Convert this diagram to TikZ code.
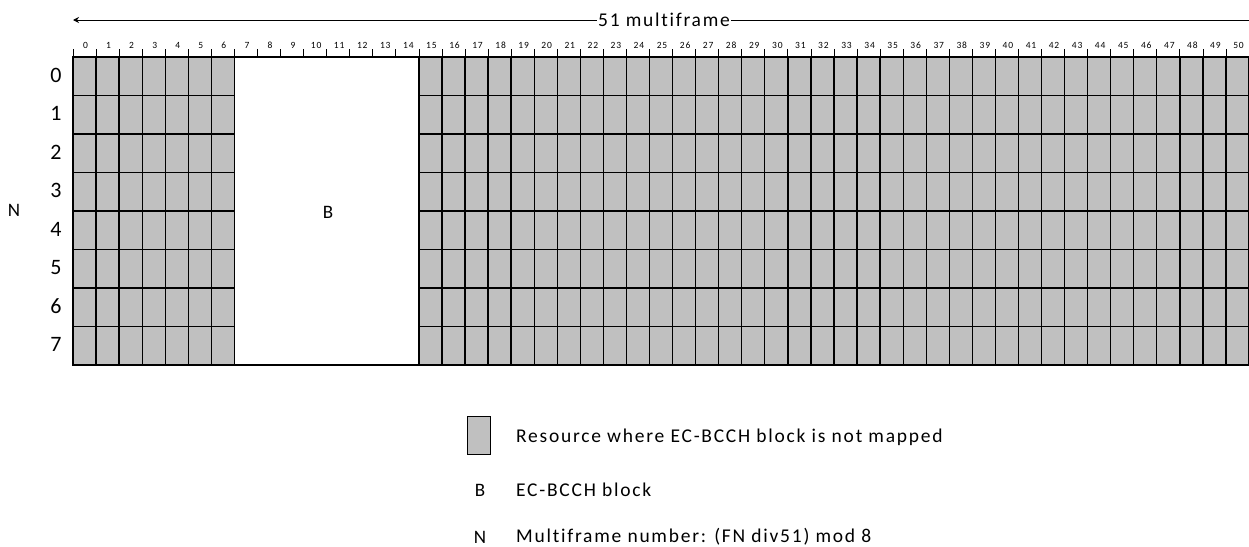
\documentclass[tikz,border=0pt]{standalone}
\usepackage{fontspec}
\setmainfont{Carlito}
\usetikzlibrary{arrows.meta}
\definecolor{cellgray}{HTML}{C0C0C0}
\newfontfamily\spaced[LetterSpace=9,Ligatures={NoCommon,NoRare,NoContextual}]{Carlito}
\tikzset{
  cell/.style={fill=cellgray,draw=black,line width=1.3pt},
  tick/.style={draw=black,line width=0.8pt},
  ticklabel/.style={font=\spaced\fontsize{9.5}{10}\selectfont,inner sep=0pt},
  rowlabel/.style={font=\fontsize{22}{24}\selectfont,inner sep=0pt},
  letter/.style={font=\fontsize{19}{21}\selectfont,inner sep=0pt},
  legtext/.style={font=\spaced\fontsize{19.5}{21}\selectfont,anchor=west,inner sep=0pt},
}
\begin{document}
\begin{tikzpicture}[x=1pt,y=-1pt]
\useasboundingbox (0,0) rectangle (1249,546);
\def\cw{23.06}
\def\rh{38.5}
% cells
\foreach \r in {0,...,7}{
  \foreach \c in {0,...,6,15,16,...,50}{
    \draw[cell] ({73+\c*\cw},{57+\r*\rh}) rectangle +(\cw,\rh);
  }
}
% B block border
\draw[line width=1.2pt] ({73+7*\cw},57) -- ({73+15*\cw},57);
\draw[line width=1.2pt] ({73+7*\cw},365) -- ({73+15*\cw},365);
% ticks and labels
\foreach \i in {0,...,51}{
  \draw[tick] ({73+\i*\cw},49) -- ({73+\i*\cw},56);
}
\foreach \i in {0,...,50}{
  \node[ticklabel] (t\i) at ({73+(\i+0.5)*\cw+1},45) {\i};
}
% arrow
\coordinate (aR) at (1249,20);
\coordinate (aL) at (73,20);
\draw[line width=1pt,-{Stealth[length=6pt,width=6pt]}] (aR) -- (aL);
\node[fill=white,inner sep=1pt,font=\spaced\fontsize{19.5}{21}\selectfont] (mf) at (664,20) {51 multiframe};
% row labels
\foreach \r in {0,...,7}{
  \node[rowlabel] (r\r) at (56,{57+(\r+0.5)*\rh-1}) {\r};
}
\node[letter] (N) at (14,210) {N};
\node[letter] (B) at (328,212) {B};
% legend
\draw[fill=cellgray,draw=black,line width=1pt] (467,416) rectangle (490,454);
\node[legtext] (l1) at (516,437) {Resource where EC-BCCH block is not mapped};
\node[letter] (lB) at (480,490) {B};
\node[legtext] (l2) at (516,490) {EC-BCCH block};
\node[letter] (lN) at (480,537) {N};
\node[legtext] (l3) at (516,537) {Multiframe number: (FN div51) mod 8};
\end{tikzpicture}
\end{document}
